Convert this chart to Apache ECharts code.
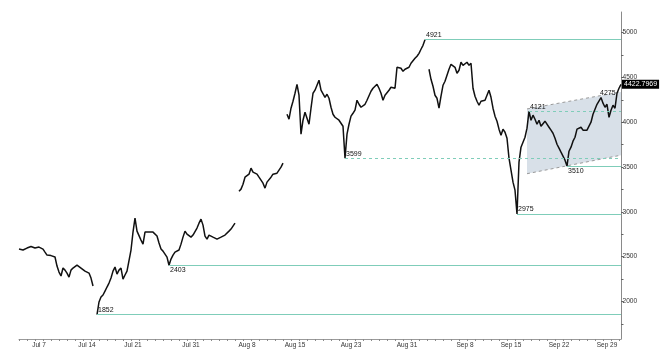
<!DOCTYPE html>
<html>
<head>
<meta charset="utf-8">
<script src="https://cdn.jsdelivr.net/npm/echarts@6/dist/echarts.min.js"></script>
<style>html,body{margin:0;padding:0;background:#fff}#c{width:661px;height:361px}</style>
</head>
<body>
<div id="c"></div>
<script>
// x positions are sample indices (one sample every ~2px of the original chart)
const xTickLabels = ['Jul 7','Jul 14','Jul 21','Jul 31','Aug 8','Aug 15','Aug 23','Aug 31','Sep 8','Sep 15','Sep 22','Sep 29'];
const xTickIdx    = [10, 34, 57, 86, 114, 138, 166, 194, 223, 246, 270, 294];
const yLabelValues = [2000, 2500, 3000, 3500, 4000, 4500, 5000];
const yTickValues  = [1750, 2000, 2250, 2500, 2750, 3000, 3250, 3500, 3750, 4000, 4250, 4500, 4750, 5000];

const price = [
  2584, 2595, 2573, 2561, 2595, 2617, 2612, 2600, 2595, 2606,   // 0
  2606, 2595, 2584, 2550, 2517, 2539, 2511, 2506, 2495, 2394,   // 10
  2327, 2283, 2372, 2349, 2316, 2271, 2349, 2372, 2394, 2405,   // 20
  2394, 2372, 2361, 2338, 2327, 2316, 2260, 2171, null, 1852,   // 30
  1993, 2048, 2071, 2115, 2160, 2204, 2260, 2338, 2383, 2305,   // 40
  2349, 2372, 2249, 2294, 2338, 2349, 2573, 2773, 2930, 2784,   // 50
  2762, 2684, 2639, 2773, 2784, 2773, 2784, 2773, 2784, 2729,   // 60
  2651, 2584, 2561, 2528, 2494, 2403, 2472, 2517, 2550, 2561,   // 70
  2573, 2639, 2717, 2784, 2751, 2729, 2717, 2740, 2762, 2818,   // 80
  2873, 2918, 2851, 2729, 2695, 2740, 2729, 2717, 2706, 2695,   // 90
  2684, 2717, 2729, 2740, 2762, 2784, 2807, 2840, 2873, null,   // 100
  3230, 3253, 3308, 3386, 3375, 3420, 3487, 3442, 3420, 3420,   // 110
  3386, 3386, 3319, 3264, 3331, 3353, 3386, 3420, 3420, 3431,   // 120
  3453, 3498, 3543, null, 4089, 4033, 4156, 4234, 4323, 4423,   // 130
  4301, 3866, 4022, 4111, 4044, 3977, 4156, 4323, 4357, 4379,   // 140
  4468, 4357, 4345, 4278, 4312, 4267, 4167, 4089, 4055, 4067,   // 150
  4022, 4000, 3955, 3599, 3866, 3977, 4067, 4100, 4134, 4245,   // 160
  4200, 4167, 4189, 4200, 4245, 4267, 4345, 4379, 4357, 4423,   // 170
  4379, 4323, 4245, 4301, 4323, 4357, 4390, 4379, 4379, 4613,   // 180
  4635, 4602, 4568, 4591, 4602, 4613, 4658, 4680, 4713, 4736,   // 190
  4769, 4814, 4858, 4921, null, 4591, 4479, 4401, 4301, 4267,   // 200
  4156, 4290, 4412, 4457, 4524, 4591, 4646, 4646, 4613, 4546,   // 210
  4580, 4669, 4635, 4646, 4669, 4635, 4658, 4379, 4290, 4234,   // 220
  4189, 4234, 4212, 4245, 4301, 4357, 4278, 4156, 4067, 4011,   // 230
  3922, 3855, 3922, 3888, 3821, 3598, 3465, 3331, 3241, 2975,   // 240
  3554, 3721, 3777, 3832, 3933, 4121, 4022, 4078, 4033, 3977,   // 250
  4022, 3955, 3966, 4011, 4022, 3944, 3911, 3877, 3821, 3754,   // 260
  3710, 3665, 3621, 3576, 3510, 3676, 3721, 3788, 3832, 3922,   // 270
  3922, 3944, 3911, 3933, 3911, 3922, 4000, 4089, 4145, 4200,   // 280
  4200, 4275, 4212, 4167, 4200, 4055, 4134, 4189, 4156, 4323,   // 290
  4379, 4422.7969                                               // 300
];

// horizontal support / resistance levels
const levelValues   = [4921, 3599, 2975, 2403, 1852, 3510, 4121];
const levelStartIdx = [203, 163, 249, 75, 39, 274, 255];
const levelDashed   = [false, true, false, false, false, false, true];
const levelLabelPos = ['insideStartTop','insideStartTop','insideStartTop','insideStartBottom','insideStartTop','insideStartBottom','insideStartTop'];

// annotated peak
const peakIdx = 291, peakValue = 4275;

// rising channel (shaded)
const channelX      = [254, 301];
const channelTop    = [4148, 4338];
const channelBottom = [3425, 3632];

const N = price.length;
const xCategories = [];
for (let i = 0; i < N; i++) xCategories.push(String(i));
const labelByIdx = {};
xTickIdx.forEach((k, j) => { labelByIdx[k] = xTickLabels[j]; });

const FONT = 'Liberation Sans';
const TEAL = '#7fcdb9';
const lastIdx = N - 1;

const markLineData = levelValues.map((v, j) => [
  {
    coord: [levelStartIdx[j], v],
    lineStyle: { color: TEAL, width: 1, opacity: 1, type: levelDashed[j] ? [3, 3] : 'solid' },
    label: { show: true, position: levelLabelPos[j], formatter: String(v), distance: 1,
             color: '#111', fontSize: 7, fontFamily: FONT, padding: 0 }
  },
  { coord: [lastIdx, v] }
]);

const chart = echarts.init(document.getElementById('c'), null, { renderer: 'canvas' });
chart.setOption({
  animation: false,
  backgroundColor: '#fff',
  grid: { left: 19, right: 40, top: 12, bottom: 22, containLabel: false },
  xAxis: {
    type: 'category',
    data: xCategories,
    boundaryGap: false,
    axisLine: { lineStyle: { color: '#9a9a9a', width: 1 } },
    axisTick: { interval: (i) => i % 4 === 0, length: 2, lineStyle: { color: '#8a8a8a' } },
    axisLabel: {
      interval: (i) => labelByIdx[i] !== undefined,
      formatter: (v, i) => labelByIdx[i] || '',
      fontSize: 6.5, color: '#333', margin: 3, fontFamily: FONT
    },
    splitLine: { show: false }
  },
  yAxis: {
    type: 'value',
    position: 'right',
    min: 1580,
    max: 5230,
    axisLine: { show: true, lineStyle: { color: '#8a8a8a', width: 1 } },
    axisTick: { show: true, customValues: yTickValues, length: 2.5, lineStyle: { color: '#666' } },
    axisLabel: { customValues: yLabelValues, formatter: (v) => String(v),
                 fontSize: 6.6, color: '#333', margin: 1.5, fontFamily: FONT },
    splitLine: { show: false }
  },
  series: [
    {
      type: 'custom',
      z: 1,
      silent: true,
      data: [[channelX[0], channelTop[0]]],
      renderItem: (params, api) => {
        const tl = api.coord([channelX[0], channelTop[0]]);
        const tr = api.coord([channelX[1], channelTop[1]]);
        const bl = api.coord([channelX[0], channelBottom[0]]);
        const br = api.coord([channelX[1], channelBottom[1]]);
        return {
          type: 'group',
          children: [
            { type: 'polygon', shape: { points: [tl, tr, br, bl] }, style: { fill: '#d8e0e8' } },
            { type: 'polyline', shape: { points: [tl, tr] }, style: { stroke: '#9a9a9a', lineWidth: 1, lineDash: [3, 3], fill: null } },
            { type: 'polyline', shape: { points: [bl, br] }, style: { stroke: '#9a9a9a', lineWidth: 1, lineDash: [3, 3], fill: null } }
          ]
        };
      }
    },
    {
      type: 'line',
      z: 3,
      data: price,
      showSymbol: false,
      connectNulls: false,
      lineStyle: { color: '#111', width: 1.5 },
      endLabel: {
        show: true,
        formatter: (p) => String(p.value),
        backgroundColor: '#000', color: '#fff', fontSize: 7, fontFamily: FONT,
        padding: [1, 2], distance: 1
      },
      markLine: { symbol: 'none', silent: true, animation: false, data: markLineData },
      markPoint: {
        symbol: 'circle', symbolSize: 0, silent: true,
        data: [{ coord: [peakIdx, peakValue],
                 label: { show: true, formatter: String(peakValue), position: 'right', distance: 0, offset: [-1, -4],
                          color: '#111', fontSize: 7, fontFamily: FONT } }]
      }
    }
  ]
});
</script>
</body>
</html>
